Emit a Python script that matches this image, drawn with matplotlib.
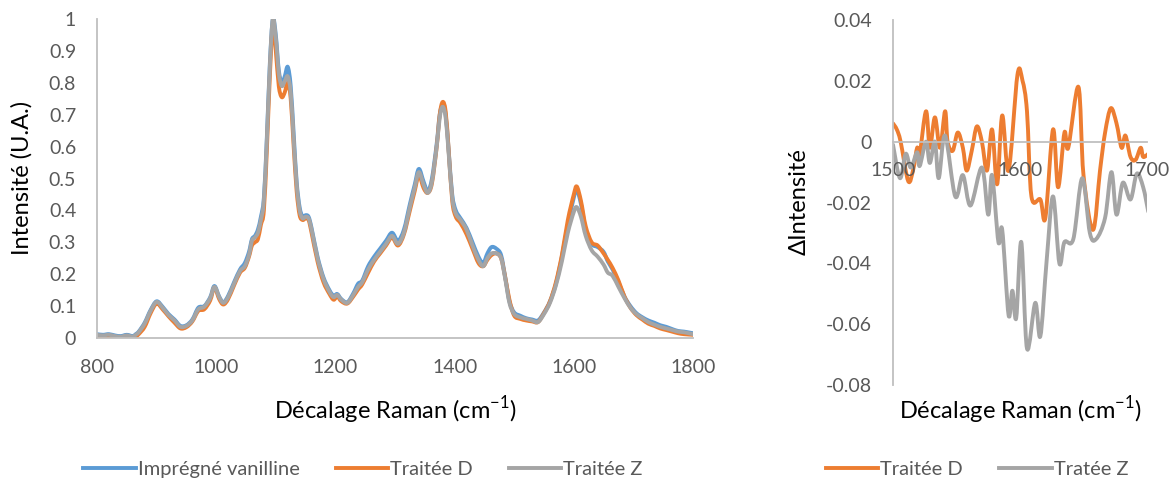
import matplotlib
matplotlib.use("Agg")
import matplotlib.pyplot as plt
from matplotlib.lines import Line2D
from matplotlib.patches import PathPatch
from matplotlib.path import Path
from matplotlib.ticker import FuncFormatter

plt.rcParams["font.family"] = ["Lato", "DejaVu Sans"]
plt.rcParams["mathtext.fontset"] = "custom"
plt.rcParams["mathtext.rm"] = "Lato"

# --- left panel: normalised Raman spectra ---
wavenumber = [800, 810, 820, 830, 840, 850, 860, 865, 870, 880, 890, 900, 910, 920, 930, 940, 950, 960,
              970, 980, 990, 997, 1005, 1012, 1020, 1030, 1040, 1048, 1055, 1060, 1065, 1070, 1075, 1080,
              1085, 1090, 1095, 1100, 1105, 1110, 1115, 1120, 1125, 1130, 1135, 1140, 1145, 1150, 1155,
              1160, 1170, 1180, 1190, 1197, 1203, 1210, 1220, 1230, 1238, 1245, 1255, 1265, 1275, 1285,
              1295, 1305, 1315, 1325, 1333, 1340, 1348, 1355, 1362, 1370, 1375, 1380, 1385, 1390, 1396,
              1402, 1410, 1420, 1430, 1440, 1448, 1455, 1462, 1470, 1478, 1485, 1492, 1500, 1510, 1520,
              1530, 1540, 1550, 1560, 1570, 1580, 1590, 1600, 1605, 1612, 1620, 1630, 1640, 1650, 1657,
              1665, 1675, 1685, 1695, 1705, 1715, 1725, 1735, 1745, 1755, 1765, 1775, 1785, 1800]

impregne = [.012, .010, .012, .008, .006, .010, .006, .012, .020, .048, .088, .115, .098, .075, .058, .038,
            .040, .058, .095, .100, .128, .163, .130, .112, .132, .175, .215, .235, .270, .310, .320, .340,
            .380, .440, .630, .860, 1.000, .950, .840, .800, .820, .850, .790, .640, .490, .410, .380, .385,
            .380, .345, .255, .190, .150, .132, .138, .122, .112, .140, .170, .180, .225, .255, .280, .305,
            .330, .305, .340, .420, .480, .530, .490, .460, .500, .610, .700, .730, .700, .590, .450, .400,
            .375, .345, .300, .255, .235, .265, .285, .280, .260, .190, .115, .080, .070, .062, .058, .055,
            .080, .115, .170, .255, .355, .440, .465, .420, .340, .295, .285, .270, .240, .215, .175, .130,
            .100, .078, .065, .055, .048, .040, .035, .028, .022, .020, .015]

traitee_d = [.008, .004, .006, .002, .000, .003, .000, .004, .012, .035, .078, .108, .090, .068, .048, .030,
             .034, .052, .085, .090, .118, .158, .122, .105, .122, .165, .205, .220, .255, .290, .300, .310,
             .355, .400, .590, .820, .980, .900, .790, .755, .770, .800, .750, .600, .460, .385, .370, .375,
             .370, .330, .240, .175, .138, .120, .130, .115, .108, .130, .152, .168, .205, .240, .265, .290,
             .315, .290, .325, .400, .460, .510, .470, .455, .485, .600, .700, .740, .710, .590, .430, .380,
             .360, .325, .280, .235, .225, .245, .260, .265, .250, .190, .120, .070, .060, .055, .052, .050,
             .078, .115, .175, .260, .370, .450, .475, .430, .350, .300, .290, .265, .245, .220, .180, .130,
             .095, .072, .058, .045, .038, .030, .025, .020, .015, .012, .010]

traitee_z = [.010, .008, .010, .006, .004, .008, .004, .010, .018, .045, .085, .113, .095, .072, .055, .035,
             .038, .055, .090, .098, .125, .160, .128, .110, .128, .170, .210, .225, .260, .305, .315, .330,
             .370, .430, .620, .850, 1.000, .940, .830, .790, .805, .820, .770, .620, .480, .400, .375, .380,
             .375, .340, .250, .185, .145, .128, .135, .120, .110, .135, .160, .175, .215, .245, .270, .295,
             .320, .295, .330, .410, .470, .520, .480, .455, .490, .600, .690, .725, .690, .580, .440, .390,
             .370, .340, .290, .245, .225, .250, .265, .265, .250, .185, .110, .075, .065, .060, .055, .050,
             .075, .110, .165, .240, .330, .395, .410, .380, .320, .275, .255, .230, .205, .195, .160, .125,
             .095, .075, .062, .050, .042, .035, .030, .025, .020, .018, .012]

# --- right panel: difference spectra ---
wn_d = [1500, 1503, 1506, 1512, 1516, 1519, 1521, 1526, 1529, 1533, 1537, 1541, 1543, 1547, 1551, 1555,
        1558, 1562, 1566, 1570, 1574, 1578, 1582, 1586, 1591, 1598, 1602, 1605.5, 1609, 1616, 1620, 1626,
        1630, 1635, 1638, 1646, 1650, 1657.5, 1663, 1667, 1671.5, 1676, 1680, 1683, 1687, 1691, 1695,
        1697, 1701]
delta_d = [.006, .004, .000, -.013, -.009, -.002, -.004, .010, -.002, .008, -.002, .010, .000, -.003, .003,
           -.002, -.0095, -.003, .005, .000, -.0095, .004, -.014, .0086, -.0095, .022, .020, .010, -.018,
           -.019, -.025, .004, -.015, .003, -.002, .018, -.011, -.029, -.0095, .003, .011, .006, -.002,
           .002, -.005, -.006, -.002, -.005, -.004]

wn_z = [1500, 1505.5, 1510, 1514, 1519, 1521, 1526, 1529, 1533, 1536, 1541, 1549, 1555, 1561, 1570, 1575,
        1578, 1583, 1586, 1591, 1594, 1597, 1601, 1605.5, 1612, 1616, 1621, 1626, 1631, 1635, 1642, 1649,
        1655, 1660, 1667, 1672, 1676, 1681, 1687, 1692, 1697, 1701]
delta_z = [-.001, -.012, -.004, -.0085, -.0035, -.008, .000, -.007, .000, -.012, .002, -.018, -.011, -.021,
           -.0085, -.024, -.011, -.033, -.029, -.057, -.049, -.058, -.033, -.068, -.053, -.064, -.039, -.018,
           -.040, -.033, -.032, -.012, -.030, -.032, -.025, -.010, -.024, -.0135, -.019, -.0105, -.015, -.023]

BLUE = "#5B9BD5"
ORANGE = "#ED7D31"
GRAY = "#A5A5A5"
AXIS = "#BFBFBF"
TICK = "#595959"
LW = 2.8
TICK_FS = 14
LABEL_FS = 17
LEGEND_FS = 14.5

fig = plt.figure(figsize=(11.76, 4.90), dpi=100)
W, H = 1176, 490


def axes_px(x0, y0, x1, y1):
    return fig.add_axes([x0 / W, 1 - y1 / H, (x1 - x0) / W, (y1 - y0) / H])


def style(ax):
    for side in ("top", "right"):
        ax.spines[side].set_visible(False)
    for side in ("left", "bottom"):
        ax.spines[side].set_color(AXIS)
        ax.spines[side].set_linewidth(1.3)
    ax.tick_params(length=0, labelsize=TICK_FS, labelcolor=TICK, pad=15)


def smooth_line(ax, xs, ys, color):
    # Excel-style "smoothed line": Catmull-Rom segments drawn as cubic Bezier curves
    pts = list(zip(xs, ys))
    verts = [pts[0]]
    codes = [Path.MOVETO]
    for i in range(len(pts) - 1):
        p0 = pts[max(i - 1, 0)]
        p1 = pts[i]
        p2 = pts[i + 1]
        p3 = pts[min(i + 2, len(pts) - 1)]
        c1 = (p1[0] + (p2[0] - p0[0]) / 6, p1[1] + (p2[1] - p0[1]) / 6)
        c2 = (p2[0] - (p3[0] - p1[0]) / 6, p2[1] - (p3[1] - p1[1]) / 6)
        verts += [c1, c2, p2]
        codes += [Path.CURVE4] * 3
    ax.add_patch(PathPatch(Path(verts, codes), fill=False, edgecolor=color, lw=LW,
                           joinstyle="round", capstyle="round"))


def handle(color):
    return Line2D([], [], color=color, lw=LW)


ax1 = axes_px(97, 19, 693, 338)
smooth_line(ax1, wavenumber, impregne, BLUE)
smooth_line(ax1, wavenumber, traitee_d, ORANGE)
smooth_line(ax1, wavenumber, traitee_z, GRAY)
ax1.set_xlim(800, 1800)
ax1.set_ylim(0, 1)
ax1.set_xticks(range(800, 1801, 200))
ax1.set_yticks([i / 10 for i in range(11)])
ax1.yaxis.set_major_formatter(FuncFormatter(lambda v, p: f"{v:g}"))
style(ax1)
ax1.legend([handle(BLUE), handle(ORANGE), handle(GRAY)],
           ["Imprégné vanilline", "Traitée D", "Traitée Z"],
           loc="center", bbox_to_anchor=(363 / W, 1 - 469 / H), bbox_transform=fig.transFigure,
           ncol=3, frameon=False, fontsize=LEGEND_FS, labelcolor=TICK, handlelength=2.6,
           handletextpad=0.1, columnspacing=1.8)

ax2 = axes_px(893, 20, 1147, 385)
smooth_line(ax2, wn_d, delta_d, ORANGE)
smooth_line(ax2, wn_z, delta_z, GRAY)
ax2.set_xlim(1500, 1700)
ax2.set_ylim(-0.08, 0.04)
ax2.set_xticks([1500, 1600, 1700])
ax2.set_yticks([0.04, 0.02, 0, -0.02, -0.04, -0.06, -0.08])
ax2.yaxis.set_major_formatter(FuncFormatter(lambda v, p: f"{v:g}".replace("\u2212", "-")))
style(ax2)
ax2.spines["bottom"].set_position(("data", 0))
ax2.legend([handle(ORANGE), handle(GRAY)], ["Traitée D", "Tratée Z"],
           loc="center", bbox_to_anchor=(977 / W, 1 - 469 / H), bbox_transform=fig.transFigure,
           ncol=2, frameon=False, fontsize=LEGEND_FS, labelcolor=TICK, handlelength=2.6,
           handletextpad=0.1, columnspacing=1.8)

fig.text(22 / W, 1 - 178 / H, "Intensité (U.A.)", rotation=90, ha="center", va="center", fontsize=LABEL_FS)
fig.text(395 / W, 1 - 410 / H, "Décalage Raman (cm$^{-1}$)", ha="center", va="center", fontsize=LABEL_FS)
fig.text(799 / W, 1 - 202 / H, "ΔIntensité", rotation=90, ha="center", va="center", fontsize=LABEL_FS)
fig.text(1020 / W, 1 - 410 / H, "Décalage Raman (cm$^{-1}$)", ha="center", va="center", fontsize=LABEL_FS)

fig.savefig("out.png", dpi=100)
